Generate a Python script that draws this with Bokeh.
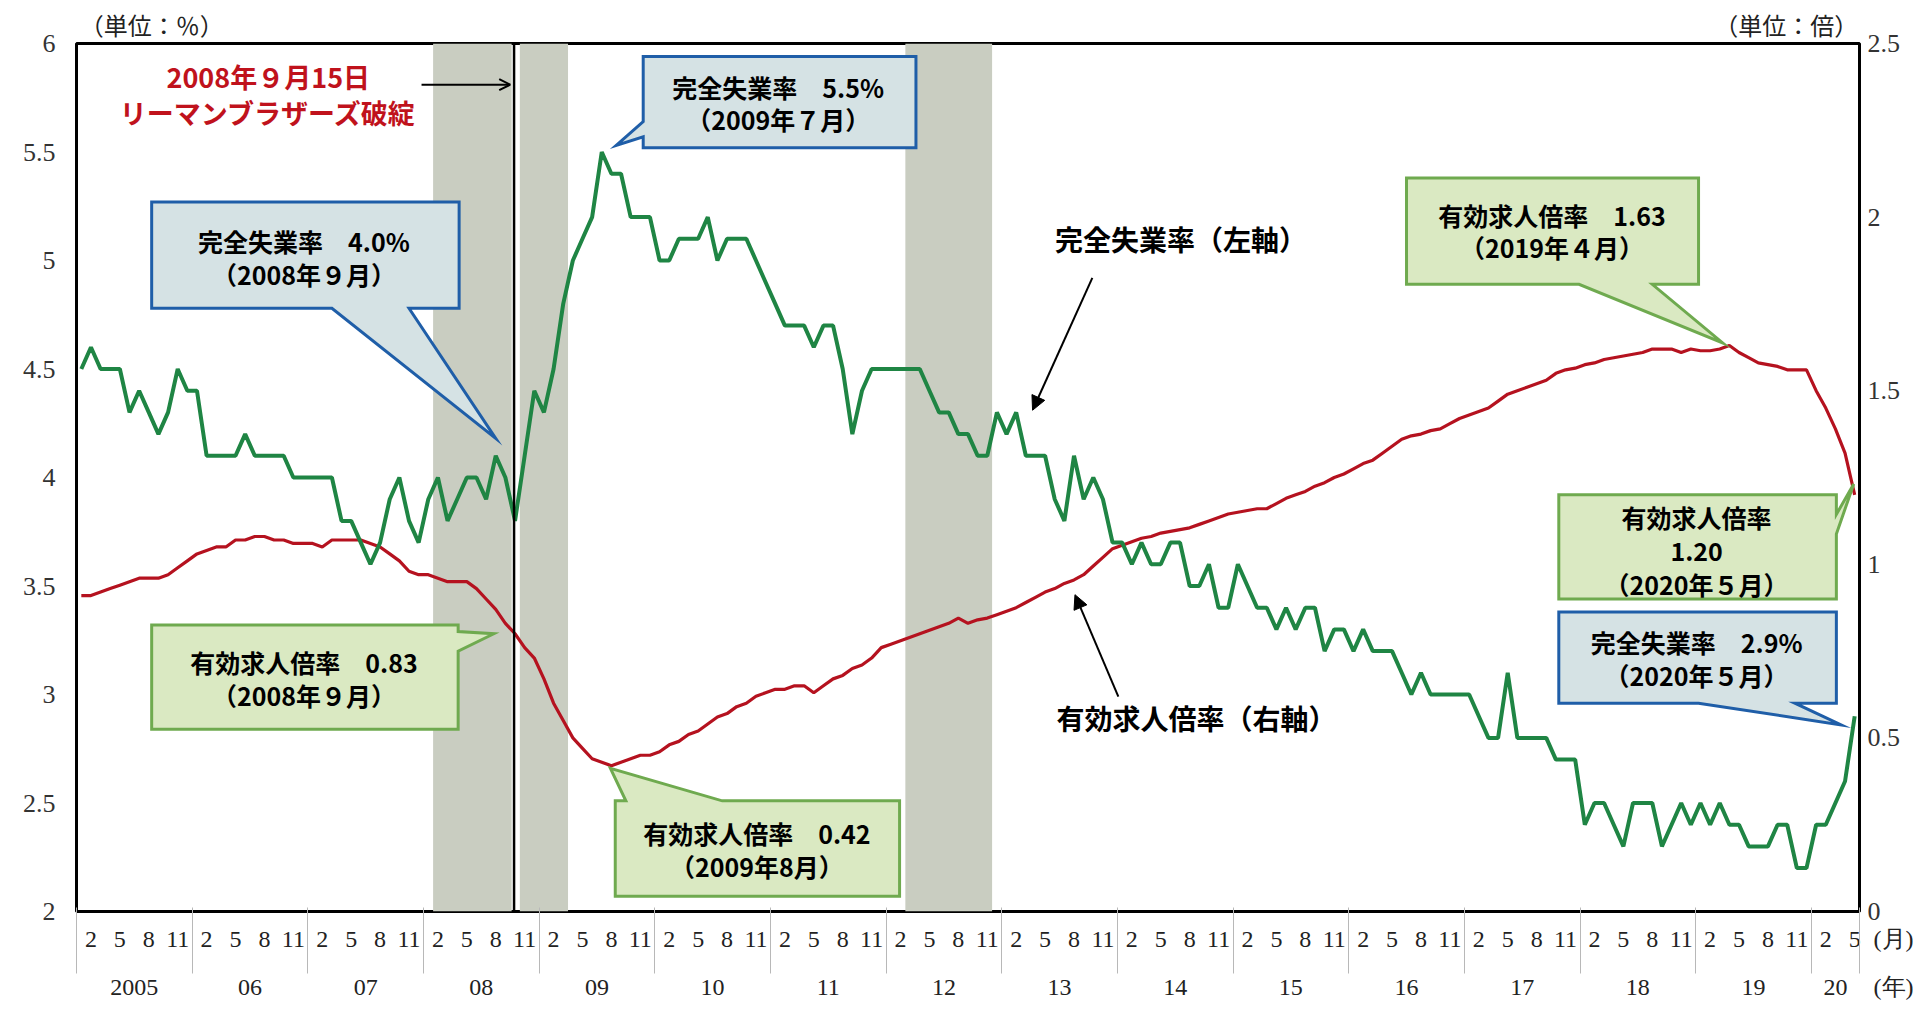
import numpy as np
from bokeh.plotting import figure
from bokeh.models import (Range1d, LinearAxis, FixedTicker, Span, Arrow, NormalHead,
                          OpenHead)
from bokeh.core.properties import value
from bokeh.embed import file_html
from bokeh.resources import INLINE

# ---------------- data ----------------
year_labels = ["2005", "06", "07", "08", "09", "10", "11", "12", "13", "14",
               "15", "16", "17", "18", "19", "20"]
month_label_names = {1: "2", 4: "5", 7: "8", 10: "11"}

# 完全失業率 (%), monthly Jan 2005 - May 2020
unemployment_rate = [
    4.5, 4.6, 4.5, 4.5, 4.5, 4.3, 4.4, 4.3, 4.2, 4.3, 4.5, 4.4,   # 2005
    4.4, 4.1, 4.1, 4.1, 4.1, 4.2, 4.1, 4.1, 4.1, 4.1, 4.0, 4.0,   # 2006
    4.0, 4.0, 4.0, 3.8, 3.8, 3.7, 3.6, 3.7, 3.9, 4.0, 3.8, 3.7,   # 2007
    3.9, 4.0, 3.8, 3.9, 4.0, 4.0, 3.9, 4.1, 4.0, 3.8, 4.1, 4.4,   # 2008
    4.3, 4.5, 4.8, 5.0, 5.1, 5.2, 5.5, 5.4, 5.4, 5.2, 5.2, 5.2,   # 2009
    5.0, 5.0, 5.1, 5.1, 5.1, 5.2, 5.0, 5.1, 5.1, 5.1, 5.0, 4.9,   # 2010
    4.8, 4.7, 4.7, 4.7, 4.6, 4.7, 4.7, 4.5, 4.2, 4.4, 4.5, 4.5,   # 2011
    4.5, 4.5, 4.5, 4.5, 4.4, 4.3, 4.3, 4.2, 4.2, 4.1, 4.1, 4.3,   # 2012
    4.2, 4.3, 4.1, 4.1, 4.1, 3.9, 3.8, 4.1, 3.9, 4.0, 3.9, 3.7,   # 2013
    3.7, 3.6, 3.7, 3.6, 3.6, 3.7, 3.7, 3.5, 3.5, 3.6, 3.4, 3.4,   # 2014
    3.6, 3.5, 3.4, 3.4, 3.3, 3.4, 3.3, 3.4, 3.4, 3.2, 3.3, 3.3,   # 2015
    3.2, 3.3, 3.2, 3.2, 3.2, 3.1, 3.0, 3.1, 3.0, 3.0, 3.0, 3.0,   # 2016
    3.0, 2.9, 2.8, 2.8, 3.1, 2.8, 2.8, 2.8, 2.8, 2.7, 2.7, 2.7,   # 2017
    2.4, 2.5, 2.5, 2.4, 2.3, 2.5, 2.5, 2.5, 2.3, 2.4, 2.5, 2.4,   # 2018
    2.5, 2.4, 2.5, 2.4, 2.4, 2.3, 2.3, 2.3, 2.4, 2.4, 2.2, 2.2,   # 2019
    2.4, 2.4, 2.5, 2.6, 2.9,                                      # 2020
]

# 有効求人倍率 (倍), monthly Jan 2005 - May 2020
jobs_to_applicants = [
    0.91, 0.91, 0.92, 0.93, 0.94, 0.95, 0.96, 0.96, 0.96, 0.97, 0.99, 1.01,   # 2005
    1.03, 1.04, 1.05, 1.05, 1.07, 1.07, 1.08, 1.08, 1.07, 1.07, 1.06, 1.06,   # 2006
    1.06, 1.05, 1.07, 1.07, 1.07, 1.07, 1.06, 1.05, 1.03, 1.01, 0.98, 0.97,   # 2007
    0.97, 0.96, 0.95, 0.95, 0.95, 0.93, 0.90, 0.87, 0.83, 0.80, 0.76, 0.73,   # 2008
    0.67, 0.60, 0.55, 0.50, 0.47, 0.44, 0.43, 0.42, 0.43, 0.44, 0.45, 0.45,   # 2009
    0.46, 0.48, 0.49, 0.51, 0.52, 0.54, 0.56, 0.57, 0.59, 0.60, 0.62, 0.63,   # 2010
    0.64, 0.64, 0.65, 0.65, 0.63, 0.65, 0.67, 0.68, 0.70, 0.71, 0.73, 0.76,   # 2011
    0.77, 0.78, 0.79, 0.80, 0.81, 0.82, 0.83, 0.845, 0.83, 0.84, 0.845, 0.855,  # 2012
    0.865, 0.875, 0.89, 0.905, 0.92, 0.93, 0.945, 0.955, 0.97, 0.995, 1.02, 1.045,  # 2013
    1.055, 1.065, 1.075, 1.08, 1.09, 1.095, 1.10, 1.105, 1.115, 1.125, 1.135, 1.145,  # 2014
    1.15, 1.155, 1.16, 1.16, 1.175, 1.19, 1.20, 1.21, 1.225, 1.235, 1.25, 1.26,  # 2015
    1.275, 1.29, 1.30, 1.32, 1.34, 1.36, 1.37, 1.375, 1.385, 1.39, 1.405, 1.42,  # 2016
    1.43, 1.44, 1.45, 1.47, 1.49, 1.50, 1.51, 1.52, 1.53, 1.55, 1.56, 1.565,  # 2017
    1.575, 1.58, 1.59, 1.595, 1.60, 1.605, 1.61, 1.62, 1.62, 1.62, 1.61, 1.62,  # 2018
    1.615, 1.615, 1.62, 1.63, 1.61, 1.595, 1.58, 1.575, 1.57, 1.56, 1.56, 1.56,  # 2019
    1.50, 1.45, 1.39, 1.32, 1.20,                                              # 2020
]

# shaded periods (month index from Jan 2005)
recession_start = [37.0, 46.0, 86.0]
recession_end = [45.15, 51.0, 95.0]
lehman_month = 45.4

left_ticks = [2, 2.5, 3, 3.5, 4, 4.5, 5, 5.5, 6]
right_ticks = [0, 0.5, 1, 1.5, 2, 2.5]

unit_left = "（単位：％）"
unit_right = "（単位：倍）"
month_caption = "(月)"
year_caption = "(年)"

# ---------------- styles ----------------
GREEN = "#1f8544"
RED = "#b5121f"
BAND = "#c9cdc1"
BLUE_EDGE, BLUE_FILL = "#1f5ea8", "#d5e2e4"
GRN_EDGE, GRN_FILL = "#6faa4f", "#dae9c2"
JP = "Noto Sans CJK JP"
SERIF = "Liberation Serif"
PAD = "\u3000\u3000\u3000"

n = len(unemployment_rate)
months = np.arange(n) + 0.5

month_ticks, month_over = [], {}
for i in range(n):
    k = i % 12
    if k in month_label_names:
        month_ticks.append(i + 0.5)
        month_over[i + 0.5] = month_label_names[k]
month_ticks.append(n)
month_over[n] = PAD + month_caption

year_bounds = list(range(0, n, 12)) + [n]
year_centers, year_over = [], {}
for k, lab in enumerate(year_labels):
    c = (year_bounds[k] + year_bounds[k + 1]) / 2.0
    year_centers.append(c)
    year_over[c] = lab
year_centers.append(n)
year_over[n] = PAD + year_caption

W, H = 1913, 1010
p = figure(width=W, height=H, x_range=Range1d(0, n), y_range=Range1d(2, 6),
           output_backend="svg", toolbar_location=None,
           x_axis_location=None, y_axis_location=None,
           min_border_left=76, min_border_right=54, min_border_top=43, min_border_bottom=99,
           background_fill_color="white", border_fill_color="white")
p.xgrid.visible = False
p.ygrid.visible = False
p.outline_line_color = "black"
p.outline_line_width = 3
p.extra_y_ranges = {"r": Range1d(0, 2.5)}

def bare(ax):
    ax.axis_line_color = None
    ax.major_tick_line_color = None
    ax.minor_tick_line_color = None
    ax.major_tick_out = 0
    ax.major_tick_in = 0
    ax.minor_tick_out = 0
    ax.minor_tick_in = 0

def style_y(ax):
    bare(ax)
    ax.major_label_text_font = SERIF
    ax.major_label_text_font_size = "26px"
    ax.major_label_text_color = "#333333"

yl = LinearAxis(ticker=FixedTicker(ticks=left_ticks),
                major_label_overrides={t: ("%g" % t) for t in left_ticks})
style_y(yl)
yl.major_label_standoff = 21
p.add_layout(yl, "left")

yr = LinearAxis(y_range_name="r", ticker=FixedTicker(ticks=right_ticks),
                major_label_overrides={t: ("%g" % t) for t in right_ticks})
style_y(yr)
yr.major_label_standoff = 8
p.add_layout(yr, "right")

# units above the frame
ua = LinearAxis(ticker=FixedTicker(ticks=[7.8, 177.4], minor_ticks=[]),
                major_label_overrides={7.8: unit_left, 177.4: unit_right})
bare(ua)
ua.major_label_standoff = 2
ua.major_label_text_font = JP
ua.major_label_text_font_size = "24px"
ua.major_label_text_color = "#222222"
p.add_layout(ua, "above")

# month labels
xm = LinearAxis(ticker=FixedTicker(ticks=month_ticks, minor_ticks=[]),
                major_label_overrides=month_over)
bare(xm)
xm.major_label_standoff = 14
xm.major_label_text_font = SERIF
xm.major_label_text_font_size = "24px"
xm.major_label_text_color = "#222222"
p.add_layout(xm, "below")

# year labels + year separators (minor ticks)
xy = LinearAxis(ticker=FixedTicker(ticks=year_centers, minor_ticks=year_bounds),
                major_label_overrides=year_over)
bare(xy)
xy.minor_tick_line_color = "#b8b8b8"
xy.minor_tick_line_width = 1
xy.minor_tick_in = 47
xy.minor_tick_out = 19
xy.major_label_standoff = 0
xy.major_label_text_font = SERIF
xy.major_label_text_font_size = "24px"
xy.major_label_text_color = "#222222"
p.add_layout(xy, "below")

# shaded bands
p.quad(left=recession_start, right=recession_end, bottom=2, top=6,
       fill_color=BAND, line_color=None)
p.add_layout(Span(location=lehman_month, dimension="height",
                  line_color="black", line_width=2.5))

# series
p.line(months, jobs_to_applicants, y_range_name="r", line_color=RED, line_width=3.2)
p.line(months, unemployment_rate, line_color=GREEN, line_width=4)

# ---------------- callouts ----------------
def bubble(x0, x1, y0, y1, side, a, b, tx, ty):
    if side == "bottom":
        xs = [x0, x1, x1, b, tx, a, x0]; ys = [y1, y1, y0, y0, ty, y0, y0]
    elif side == "top":
        xs = [x0, a, tx, b, x1, x1, x0]; ys = [y1, y1, ty, y1, y1, y0, y0]
    elif side == "right":
        xs = [x0, x1, x1, tx, x1, x1, x0]; ys = [y1, y1, a, ty, b, y0, y0]
    else:  # left
        xs = [x0, x1, x1, x0, x0, tx, x0]; ys = [y1, y1, y0, y0, b, ty, a]
    return xs, ys

callouts = [
    (7.8, 39.7, 4.78, 5.27, "bottom", 26.5, 34.5, 43.5, 4.18, BLUE_EDGE, BLUE_FILL),
    (58.8, 87.1, 5.52, 5.94, "left", 5.64, 5.57, 56.0, 5.53, BLUE_EDGE, BLUE_FILL),
    (7.8, 39.6, 2.84, 3.32, "right", 3.29, 3.20, 43.3, 3.28, GRN_EDGE, GRN_FILL),
    (55.9, 85.4, 2.07, 2.51, "top", 57.0, 67.0, 55.4, 2.66, GRN_EDGE, GRN_FILL),
    (138.0, 168.3, 4.89, 5.38, "bottom", 155.9, 163.5, 170.8, 4.62, GRN_EDGE, GRN_FILL),
    (153.8, 182.6, 3.44, 3.92, "right", 3.83, 3.74, 184.4, 3.97, GRN_EDGE, GRN_FILL),
    (153.8, 182.6, 2.96, 3.38, "bottom", 168.3, 178.3, 183.1, 2.86, BLUE_EDGE, BLUE_FILL),
]
bx, by, bl, bf = [], [], [], []
for c in callouts:
    xs, ys = bubble(*c[:9])
    bx.append(xs); by.append(ys); bl.append(c[9]); bf.append(c[10])
p.patches(bx, by, fill_color=bf, line_color=bl, line_width=3, line_join="miter")

callout_text = [
    (23.6, 5.09, "完全失業率　4.0%"), (23.6, 4.94, "（2008年９月）"),
    (72.8, 5.80, "完全失業率　5.5%"), (72.8, 5.65, "（2009年７月）"),
    (23.6, 3.15, "有効求人倍率　0.83"), (23.6, 3.00, "（2008年９月）"),
    (70.6, 2.36, "有効求人倍率　0.42"), (70.6, 2.21, "（2009年8月）"),
    (153.1, 5.21, "有効求人倍率　1.63"), (153.1, 5.06, "（2019年４月）"),
    (168.1, 3.82, "有効求人倍率"), (168.1, 3.66, "1.20"), (168.1, 3.51, "（2020年５月）"),
    (168.1, 3.24, "完全失業率　2.9%"), (168.1, 3.09, "（2020年５月）"),
]
p.text(x=[t[0] for t in callout_text], y=[t[1] for t in callout_text],
       text=[t[2] for t in callout_text], text_font=value(JP), text_font_style="bold",
       text_font_size=value("25px"), text_align="center", text_baseline="middle",
       text_color="black")

p.text(x=[114.6, 116.2], y=[5.10, 2.89], text=["完全失業率（左軸）", "有効求人倍率（右軸）"],
       text_font=value(JP), text_font_style="bold", text_font_size=value("28px"),
       text_align="center", text_baseline="middle", text_color="black")
p.text(x=[19.9, 19.9], y=[5.85, 5.68], text=["2008年９月15日", "リーマンブラザーズ破綻"],
       text_font=value(JP), text_font_style="bold", text_font_size=value("27px"),
       text_align="center", text_baseline="middle", text_color="#c0121c")

p.add_layout(Arrow(end=NormalHead(size=14, fill_color="black", line_color="black"),
                   x_start=105.4, y_start=4.92, x_end=99.2, y_end=4.31,
                   line_color="black", line_width=2))
p.add_layout(Arrow(end=NormalHead(size=14, fill_color="black", line_color="black"),
                   x_start=108.1, y_start=2.99, x_end=103.6, y_end=3.46,
                   line_color="black", line_width=2))
p.add_layout(Arrow(end=OpenHead(size=11, line_color="black", line_width=2),
                   x_start=35.8, y_start=5.81, x_end=45.0, y_end=5.81,
                   line_color="black", line_width=2))

open("out.html", "w").write(file_html(p, INLINE))
